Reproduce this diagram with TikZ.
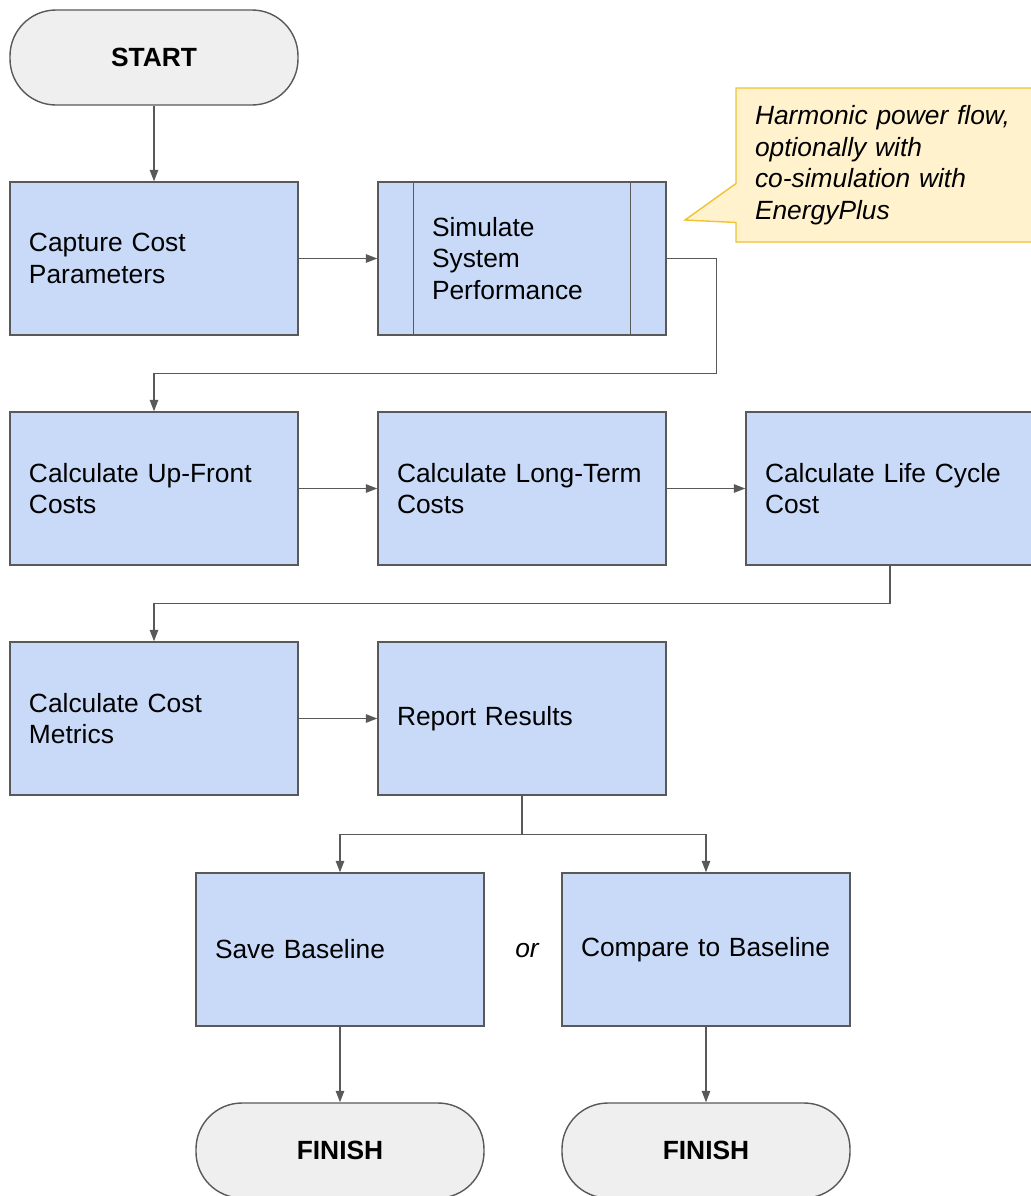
\documentclass[tikz,border=0pt]{standalone}
\usepackage{fontspec}
\setmainfont{Liberation Sans}
\usetikzlibrary{arrows.meta,positioning,shapes.callouts}
\definecolor{LcaFill}{HTML}{C9DAF8}
\definecolor{LcaBord}{HTML}{595959}
\definecolor{TrmFill}{HTML}{EFEFEF}
\definecolor{NteFill}{HTML}{FFF2CC}
\definecolor{NteBord}{HTML}{F1C232}
\tikzset{
  every picture/.append style={font=\fontsize{15}{18}\selectfont, >=Triangle},
  blk/.style={rectangle, draw=LcaBord, fill=LcaFill, line width=0.8pt, align=left,
              text width=5cm, inner xsep=0.38cm, inner ysep=0pt, minimum height=3.06cm},
  prc/.style={blk, text width=3.6cm, inner xsep=1.08cm},
  trm/.style={rectangle, rounded corners=0.92cm, draw=LcaBord, fill=TrmFill, line width=0.8pt,
              minimum width=5.76cm, minimum height=1.9cm, font=\fontsize{15}{18}\selectfont\bfseries},
  nte/.style={rectangle callout, draw=NteBord, fill=NteFill, line width=0.8pt, align=left,
              text width=5.32cm, inner xsep=0.38cm, minimum height=3.08cm,
              font=\fontsize{15}{18}\selectfont\itshape},
  flow/.style={-{Triangle[length=6.5pt,width=4.8pt]}, line width=0.75pt, draw=LcaBord},
}

\begin{document}
\begin{tikzpicture}[x=1cm,y=1cm]
\useasboundingbox (0,0) rectangle (20.62,-23.92);

% ---------------- start and simulation -------------------------------------------
\node[trm] (start) at (3.08,-1.15) {START};
\node[blk] (cap) at (3.08,-5.17) {Capture Cost\\ Parameters};
\node[prc] (sim) at (10.44,-5.17) {Simulate\\ System\\ Performance};
\draw[LcaBord, line width=0.8pt] ([xshift=0.72cm]sim.north west) -- ([xshift=0.72cm]sim.south west);
\draw[LcaBord, line width=0.8pt] ([xshift=-0.72cm]sim.north east) -- ([xshift=-0.72cm]sim.south east);
\node[nte, callout absolute pointer={(13.7,-4.4)}, callout pointer width=0.78cm] (note) at (17.76,-3.3)
  {Harmonic power flow,\\ optionally with\\ co-simulation with\\ EnergyPlus};
\draw[flow] (start) -- (cap);
\draw[flow] (cap) -- (sim);

% ---------------- cost calculation --------------------------------------------------
\node[blk] (upf) at (3.08,-9.77) {Calculate Up-Front\\ Costs};
\node[blk] (ltc) at (10.44,-9.77) {Calculate Long-Term\\ Costs};
\node[blk] (lcc) at (17.8,-9.77) {Calculate Life Cycle\\ Cost};
\draw[flow] (sim.east) -- ++(1,0) |- ([yshift=0.76cm]upf.north) -- (upf.north);
\draw[flow] (upf) -- (ltc);
\draw[flow] (ltc) -- (lcc);

% ---------------- metrics and report ------------------------------------------------
\node[blk] (cmt) at (3.08,-14.37) {Calculate Cost\\ Metrics};
\node[blk] (rep) at (10.44,-14.37) {Report Results};
\draw[flow] (lcc.south) |- ([yshift=0.76cm]cmt.north) -- (cmt.north);
\draw[flow] (cmt) -- (rep);

% ---------------- baseline ----------------------------------------------------------
\node[blk] (sav) at (6.8,-18.99) {Save Baseline};
\node[blk] (cmp) at (14.12,-18.99) {Compare to Baseline};
\node[font=\fontsize{15}{18}\selectfont\itshape] (or) at (10.54,-19.02) {or};
\draw[flow] (rep.south) -- ++(0,-0.78) -| (sav.north);
\draw[flow] (rep.south) -- ++(0,-0.78) -| (cmp.north);

% ---------------- finish ------------------------------------------------------------
\node[trm] (fin1) at (6.8,-23.01) {FINISH};
\node[trm] (fin2) at (14.12,-23.01) {FINISH};
\draw[flow] (sav) -- (fin1);
\draw[flow] (cmp) -- (fin2);

\end{tikzpicture}
\end{document}
